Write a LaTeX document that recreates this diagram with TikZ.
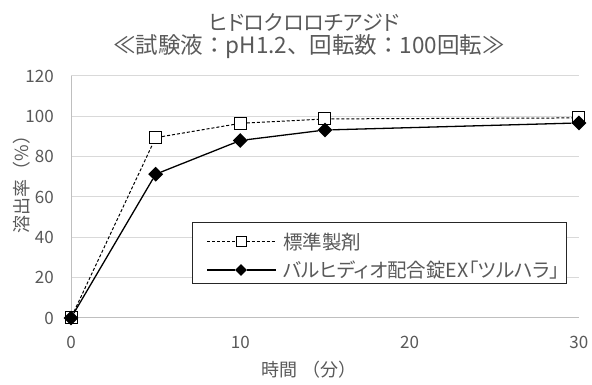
\documentclass[tikz,border=0pt]{standalone}
\usepackage{fontspec}
\setmainfont{Noto Sans CJK JP}
\usepackage{tikz}
\usetikzlibrary{positioning}
\usetikzlibrary{shapes.geometric}
\definecolor{labelgray}{HTML}{595959}
\definecolor{gridgray}{HTML}{D9D9D9}
\definecolor{axisgray}{HTML}{BFBFBF}
\newfontfamily\propfont{Noto Sans CJK JP}[RawFeature=+palt]

\begin{document}
\begin{tikzpicture}[x=1pt,y=1pt]
    \tikzstyle{ticklabel}=[text=labelgray,inner sep=1pt,
        font=\fontsize{17}{17}\selectfont]
    \tikzstyle{axistitle}=[text=labelgray,inner sep=0pt,
        font=\fontsize{18}{18}\selectfont]
    \tikzstyle{stdmark}=[rectangle,draw=black,fill=white,
        line width=1pt,minimum size=12pt,inner sep=0pt]
    \tikzstyle{genmark}=[diamond,fill=black,minimum size=15pt,inner sep=0pt]
    \useasboundingbox (0,0) rectangle (592,385);
    \fill[white] (0,0) rectangle (592,385);

    % title
    \node[axistitle,font=\propfont\fontsize{21}{21}\selectfont] (title) at (304,363) {ヒドロクロロチアジド};
    \node[axistitle,font=\fontsize{22.5}{22.5}\selectfont] (cond) at (309,338) {≪試験液：pH1.2、回転数：100回転≫};

    \begin{scope}[shift={(71pt,67pt)},x=16.93pt,y=2.017pt]
        \foreach \v in {20,40,...,120}
            \draw[gridgray,line width=1pt] (0,\v) -- (30,\v);
        \draw[axisgray,line width=1pt] (0,0) -- (30,0);
        \draw[axisgray,line width=1pt] (0,0) -- (0,120);
        \foreach \v in {0,20,...,120}
            \node[ticklabel,anchor=east] (y\v) at (-0.95,\v) {\v};
        \foreach \t in {0,10,20,30}
            \node[ticklabel] (x\t) at (\t,-11.9) {\t};

        % standard
        \foreach \t/\v in {0/0,5/89.4,10/96.5,15/98.7,30/99.2}
            \node[stdmark] (s\t) at (\t,\v) {};
        \draw[dash pattern=on 3pt off 2pt,line width=1pt]
            (s0) -- (s5) -- (s10) -- (s15) -- (s30);

        % generic
        \foreach \t/\v in {0/0,5/71.3,10/88,15/93.2,30/96.7}
            \node[genmark] (g\t) at (\t,\v) {};
        \draw[line width=1.3pt] (g0) -- (g5) -- (g10) -- (g15) -- (g30);
    \end{scope}

    \node[axistitle,rotate=90] (ytitle) at (22,205) {溶出率（\%）};
    \node[axistitle] (xtitle) at (309,15) {時間 （分）};

    % legend
    \node[draw=black!85,fill=white,line width=0.8pt,minimum width=374pt,
        minimum height=61pt,inner sep=0pt] (legend) at (379,132.5) {};
    \coordinate (la1) at (207,143);
    \coordinate (lb1) at (276,143);
    \node[stdmark,minimum size=10pt] (lm1) at (241,143) {};
    \draw[dash pattern=on 3pt off 2pt,line width=1pt] (la1) -- (lm1) -- (lb1);
    \node[axistitle,anchor=west,font=\propfont\fontsize{19.5}{19.5}\selectfont] (lt1) at (283,143) {標準製剤};
    \coordinate (la2) at (207,115);
    \coordinate (lb2) at (276,115);
    \node[genmark,minimum size=12pt] (lm2) at (241,115) {};
    \draw[line width=1.3pt] (la2) -- (lm2) -- (lb2);
    \node[axistitle,anchor=west,font=\propfont\fontsize{19.5}{19.5}\selectfont] (lt2) at (283,115) {バルヒディオ配合錠EX「ツルハラ」};
\end{tikzpicture}
\end{document}
